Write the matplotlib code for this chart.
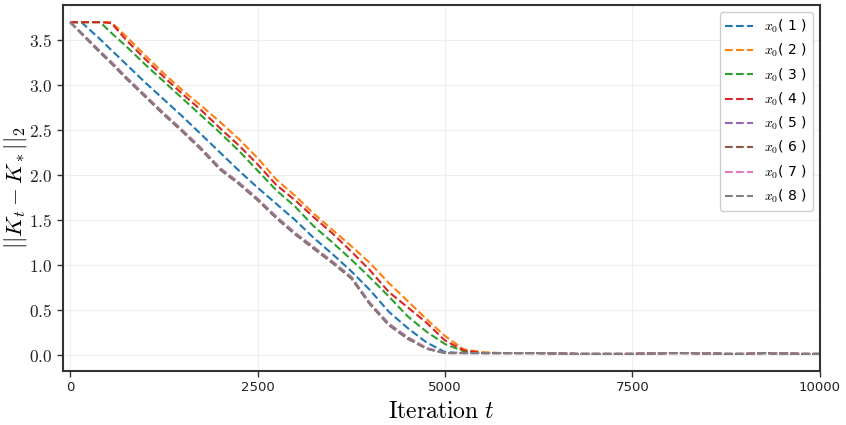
import matplotlib
matplotlib.use("Agg")
import matplotlib.pyplot as plt
from matplotlib.ticker import FuncFormatter

plt.rcParams['mathtext.fontset'] = 'cm'

# ---------------- data ----------------
t_head = [0, 150, 400, 550, 750, 1000, 1250, 1500, 1750, 2000, 2250, 2500, 2750,
          3000, 3250, 3500, 3750, 4000, 4250, 4500, 4750, 5000, 5250, 5500]
t_tail = [5750, 6000, 6250, 6500, 6750, 7000, 7250, 7500, 7750, 8000, 8250, 8500,
          8750, 9000, 9250, 9500, 9750, 10000]
tail_vals = [0.02, 0.02, 0.02, 0.015, 0.01, 0.01, 0.01, 0.01, 0.015, 0.02, 0.02, 0.015,
             0.01, 0.01, 0.02, 0.015, 0.01, 0.01]

x1 = [3.70, 3.70, 3.51, 3.39, 3.23, 3.03, 2.84, 2.65, 2.45, 2.25, 2.05, 1.86, 1.68,
      1.50, 1.30, 1.12, 0.93, 0.72, 0.48, 0.30, 0.14, 0.03, 0.02, 0.02]
x2 = [3.70, 3.70, 3.70, 3.70, 3.54, 3.33, 3.13, 2.94, 2.77, 2.59, 2.40, 2.19, 1.95,
      1.77, 1.57, 1.39, 1.21, 1.02, 0.80, 0.60, 0.40, 0.21, 0.06, 0.03]
x3 = [3.70, 3.70, 3.70, 3.58, 3.43, 3.23, 3.04, 2.85, 2.66, 2.47, 2.27, 2.05, 1.83,
      1.65, 1.43, 1.25, 1.06, 0.86, 0.65, 0.43, 0.26, 0.12, 0.04, 0.02]
x4 = [3.70, 3.70, 3.70, 3.69, 3.50, 3.29, 3.09, 2.90, 2.72, 2.52, 2.33, 2.12, 1.89,
      1.72, 1.53, 1.35, 1.15, 0.94, 0.70, 0.53, 0.36, 0.16, 0.05, 0.02]
x5 = [3.70, 3.58, 3.37, 3.25, 3.08, 2.88, 2.68, 2.49, 2.29, 2.07, 1.91, 1.73, 1.53,
      1.35, 1.19, 1.03, 0.86, 0.57, 0.34, 0.19, 0.07, 0.02, 0.02, 0.02]
x6 = [3.70, 3.57, 3.36, 3.24, 3.07, 2.87, 2.67, 2.48, 2.28, 2.06, 1.90, 1.72, 1.52,
      1.34, 1.18, 1.02, 0.85, 0.56, 0.33, 0.18, 0.07, 0.02, 0.02, 0.02]
x7 = [3.70, 3.58, 3.38, 3.26, 3.09, 2.89, 2.69, 2.50, 2.30, 2.08, 1.92, 1.74, 1.54,
      1.36, 1.20, 1.04, 0.87, 0.58, 0.35, 0.20, 0.08, 0.02, 0.02, 0.02]
x8 = [3.70, 3.58, 3.37, 3.25, 3.08, 2.88, 2.68, 2.49, 2.29, 2.07, 1.91, 1.73, 1.53,
      1.35, 1.19, 1.03, 0.86, 0.57, 0.34, 0.19, 0.07, 0.02, 0.02, 0.02]

series = [x1, x2, x3, x4, x5, x6, x7, x8]
labels = [r"$x_0$( %d )" % i for i in range(1, 9)]
colors = ['#1f77b4', '#ff7f0e', '#2ca02c', '#d62728',
          '#9467bd', '#8c564b', '#e377c2', '#7f7f7f']
xticks = [0, 2500, 5000, 7500, 10000]
yticks = [0.0, 0.5, 1.0, 1.5, 2.0, 2.5, 3.0, 3.5]

# ---------------- plot ----------------
fig = plt.figure(figsize=(8.46, 4.25), dpi=100)
ax = fig.add_axes([0.0745, 0.127, 0.8945, 0.861])

t_all = t_head + t_tail
for vals, lab, c in zip(series, labels, colors):
    ax.plot(t_all, vals + tail_vals, linestyle='--', color=c, lw=1.5, label=lab)

ax.set_xlim(-95, 10000)
ax.set_ylim(-0.18, 3.89)
ax.set_xticks(xticks)
ax.set_yticks(yticks)
ax.yaxis.set_major_formatter(FuncFormatter(lambda v, p: r"$%.1f$" % v))
for lbl in ax.get_xticklabels():
    lbl.set_fontsize(9.5)
ax.tick_params(axis='y', labelsize=12.5, length=4, width=1, colors='#333333')
ax.tick_params(axis='x', length=4, width=1, colors='#333333')
ax.tick_params(axis='both', labelcolor='#222222')

ax.grid(True, color='#eeeeee', lw=0.8)
ax.set_axisbelow(True)
for s in ax.spines.values():
    s.set_color('#333333')
    s.set_linewidth(1.5)

ax.set_xlabel(r"$\mathrm{Iteration}\ t$", fontsize=17, labelpad=3)
ax.set_ylabel(r"$||K_t - K_*||_2$", fontsize=16.5, labelpad=0)

leg = ax.legend(loc='upper right', fontsize=10, framealpha=1.0, edgecolor='#cccccc')

fig.savefig("out.png", dpi=100)
